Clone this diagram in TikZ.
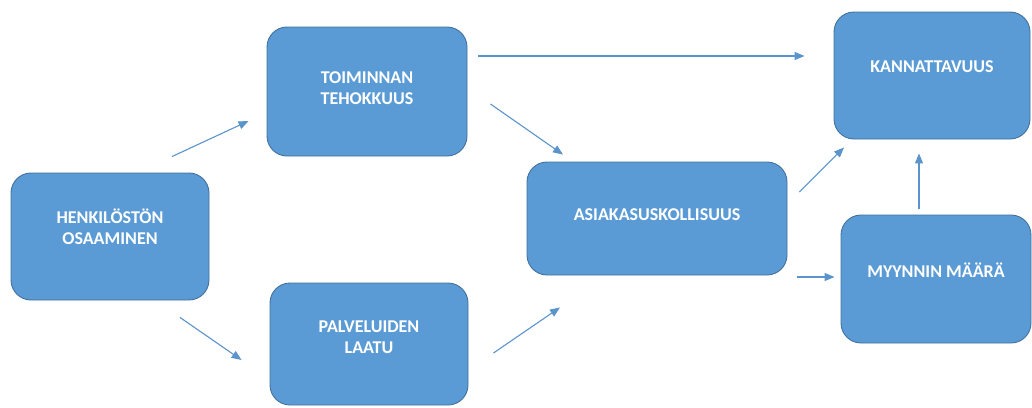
\documentclass[tikz,border=0pt]{standalone}
\usepackage{fontspec}
\setmainfont{Carlito}
\usetikzlibrary{arrows.meta}

\definecolor{boxblue}{HTML}{5B9BD5}
\definecolor{boxline}{HTML}{41719C}
\definecolor{arrblue}{HTML}{5B93CB}

\begin{document}
\begin{tikzpicture}[x=1pt, y=-1pt,
    box/.style = {draw=boxline, line width=0.9pt, fill=boxblue, rounded corners=20pt, inner sep=0pt},
    lbl/.style = {text=white, align=center, font=\fontsize{18}{21}\selectfont\bfseries, inner sep=0pt},
    arr/.style = {draw=arrblue, line width=1.1pt, -{Triangle[length=10pt, width=8pt]}}]
    \useasboundingbox (0,0) rectangle (1032,407);

    \node[box, minimum width=198pt, minimum height=127pt] at (110,236.5) (henk) {};
    \node[box, minimum width=200pt, minimum height=129pt] at (367,91.5) (toim) {};
    \node[box, minimum width=198pt, minimum height=122pt] at (369,344) (palv) {};
    \node[box, minimum width=260pt, minimum height=113pt] at (657,218.5) (asia) {};
    \node[box, minimum width=196pt, minimum height=127pt] at (932,75.5) (kann) {};
    \node[box, minimum width=190pt, minimum height=128pt] at (936,279) (myyn) {};

    \node[lbl] at ([yshift=9.5pt]henk.center) (henk-t) {HENKILÖSTÖN\\OSAAMINEN};
    \node[lbl] at ([yshift=3pt]toim.center) (toim-t) {TOIMINNAN\\TEHOKKUUS};
    \node[lbl] at ([yshift=7pt]palv.center) (palv-t) {PALVELUIDEN\\LAATU};
    \node[lbl] at ([yshift=3.5pt]asia.center) (asia-t) {ASIAKASUSKOLLISUUS};
    \node[lbl] at ([yshift=8.5pt]kann.center) (kann-t) {KANNATTAVUUS};
    \node[lbl] at ([yshift=9pt]myyn.center) (myyn-t) {MYYNNIN MÄÄRÄ};

    \path
    ([shift={(62,-16)}]henk.north) edge[arr] ([shift={(-18,29.5)}]toim.west)
    ([shift={(70,17)}]henk.south) edge[arr] ([shift={(-28,16)}]palv.west)
    ([shift={(11,-35.5)}]toim.east) edge[arr] ([shift={(-29,-19.5)}]kann.west)
    ([shift={(23,12.5)}]toim.east) edge[arr] ([shift={(-94,-7)}]asia.north)
    ([shift={(25,9)}]palv.east) edge[arr] ([shift={(-97,32)}]asia.south)
    ([shift={(12,-26.5)}]asia.east) edge[arr] ([shift={(-88,8)}]kann.south)
    ([shift={(10,58.5)}]asia.east) edge[arr] ([shift={(-6,-2)}]myyn.west)
    ([shift={(-17,-6)}]myyn.north) edge[arr] ([shift={(-13,14)}]kann.south)
    ;
\end{tikzpicture}
\end{document}
